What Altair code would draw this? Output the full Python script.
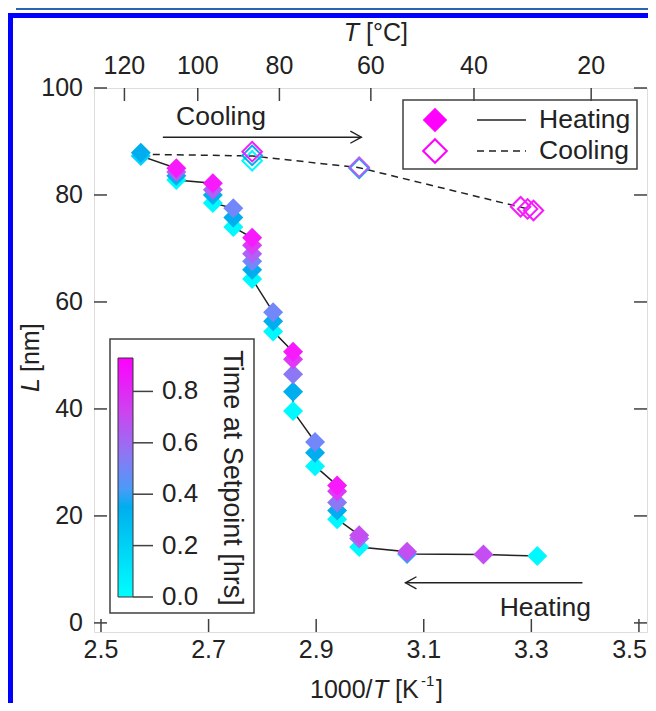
import altair as alt
import pandas as pd

# ---------------- data ----------------
# Heating series: 1000/T [K^-1], crystal size L [nm], time at setpoint [hrs]
heat_x = [2.574, 2.574,
          2.640, 2.640, 2.640, 2.640,
          2.708, 2.708, 2.708, 2.708,
          2.746, 2.746, 2.746,
          2.781, 2.781, 2.781, 2.781, 2.781, 2.781,
          2.820, 2.820, 2.820,
          2.857, 2.857, 2.857, 2.857, 2.857,
          2.898, 2.898, 2.898,
          2.939, 2.939, 2.939, 2.939, 2.939,
          2.980, 2.980, 2.980,
          3.069, 3.069,
          3.211,
          3.311]
heat_L = [87.3, 87.9,
          82.8, 83.6, 84.3, 85.0,
          78.5, 80.0, 81.0, 82.2,
          74.0, 75.8, 77.5,
          64.3, 66.0, 67.6, 69.0, 70.6, 72.0,
          54.5, 56.4, 58.1,
          39.6, 43.2, 46.5, 49.3, 50.7,
          29.3, 31.8, 33.8,
          19.4, 21.0, 22.5, 24.6, 25.7,
          14.2, 15.8, 16.4,
          12.9, 13.3,
          12.8,
          12.5]
heat_t = [0.20, 0.35,
          0.03, 0.35, 0.65, 0.90,
          0.03, 0.35, 0.65, 0.90,
          0.03, 0.35, 0.50,
          0.03, 0.35, 0.50, 0.65, 0.78, 0.90,
          0.03, 0.35, 0.50,
          0.03, 0.35, 0.55, 0.80, 0.90,
          0.03, 0.35, 0.50,
          0.03, 0.35, 0.55, 0.80, 0.90,
          0.03, 0.60, 0.70,
          0.40, 0.70,
          0.70,
          0.03]

# Cooling series (open diamonds)
cool_x = [2.781, 2.781, 2.781, 2.980, 2.980, 3.280, 3.293, 3.304]
cool_L = [86.4, 87.4, 88.1, 85.0, 85.2, 77.8, 77.4, 77.1]
cool_t = [0.03, 0.35, 0.90, 0.35, 0.65, 0.90, 0.90, 0.90]

# Cooling guide line (dashed)
cline_x = [2.574, 2.781, 2.980, 3.293]
cline_L = [87.6, 87.3, 85.1, 77.4]

# Annotation arrows and texts (data coordinates)
arrow_start = [2.615, 3.395]
arrow_end = [2.984, 3.066]
arrow_L = [90.8, 7.5]
arrow_angle = [0, 180]
note_text = ["Cooling", "Heating"]
note_x = [2.723, 3.326]
note_L = [94.6, 2.8]

# Axes
x_ticks = [2.5, 2.7, 2.9, 3.1, 3.3, 3.5]
y_ticks = [0, 20, 40, 60, 80, 100]
T_ticks = [120, 100, 80, 60, 40, 20]
cbar_ticks = [0.0, 0.2, 0.4, 0.6, 0.8]

# Colour scale (time at setpoint)
C_STOPS = [0.0, 0.35, 0.42, 0.55, 0.72, 0.93]
C_COLORS = ["#00FFFF", "#00AEEF", "#4A9BF8", "#8C78F4", "#CC44F0", "#FF00FF"]

# ---------------- styling ----------------
W, H = 553, 544
X_DOM = [2.487, 3.515]
Y_DOM = [-1.7, 100]
FONT = "Liberation Sans"
INK = "#222222"
FRAME = "#404040"
FS = 25

xs = alt.Scale(domain=X_DOM, nice=False, zero=False)
ys = alt.Scale(domain=Y_DOM, nice=False, zero=False)
cs = alt.Scale(domain=C_STOPS, range=C_COLORS)

heat = pd.DataFrame({"x": heat_x, "L": heat_L, "t": heat_t})
cool = pd.DataFrame({"x": cool_x, "L": cool_L, "t": cool_t})
cline = pd.DataFrame({"x": cline_x, "L": cline_L})
arr = pd.DataFrame({"x1": arrow_start, "x2": arrow_end, "y": arrow_L, "ang": arrow_angle})
notes = pd.DataFrame({"x": note_x, "y": note_L, "label": note_text})
one = pd.DataFrame({"k": [0]})

XN = lambda f: alt.X(f, scale=xs, axis=None)
YN = lambda f: alt.Y(f, scale=ys, axis=None)


def box(x1, x2, y1, y2, **kw):
    return alt.Chart(one).mark_rect(**kw).encode(
        x=alt.value(x1), x2=alt.value(x2), y=alt.value(y1), y2=alt.value(y2))


def label(txt, x, y, size=FS, italic=False, align="left", baseline="alphabetic", angle=0):
    kw = dict(font=FONT, fontSize=size, color=INK, align=align, baseline=baseline, text=txt)
    if italic:
        kw["fontStyle"] = "italic"
    if angle:
        kw["angle"] = angle
    return alt.Chart(one).mark_text(**kw).encode(x=alt.value(x), y=alt.value(y))


# page decoration (blue frame)
blue_left = box(-86, -81, -75, 640, color="#0000FF")
blue_top = box(-86, 620, -75, -70, color="#0000FF")
thin_top = box(-78, 620, -80, -78, color="#2B63B0")

# lines
heat_line = alt.Chart(heat).mark_line(color=INK, strokeWidth=1.5).encode(
    x=XN("x:Q"), y=YN("L:Q"), order=alt.Order("L:Q", sort="descending"))

cool_line = alt.Chart(cline).mark_line(color=INK, strokeWidth=1.5, strokeDash=[7, 5]).encode(
    x=XN("x:Q"), y=YN("L:Q"))

arrow_lines = alt.Chart(arr).mark_rule(color=INK, strokeWidth=1.4).encode(
    x=XN("x1:Q"), x2="x2:Q", y=YN("y:Q"))
arrow_heads = alt.Chart(arr).mark_point(
    shape="M-1,-0.55L0,0L-1,0.55", filled=False, size=484, color=INK, strokeWidth=1.4,
    opacity=1).encode(x=XN("x2:Q"), y=YN("y:Q"), angle=alt.Angle("ang:Q", scale=None))

heat_pts = alt.Chart(heat).mark_point(shape="diamond", filled=True, size=400, opacity=1,
                                      strokeWidth=0).encode(
    x=XN("x:Q"), y=YN("L:Q"), color=alt.Color("t:Q", scale=cs, legend=None),
    order=alt.Order("t:Q"))
cool_pts = alt.Chart(cool).mark_point(shape="diamond", filled=False, size=380, opacity=1,
                                      strokeWidth=2).encode(
    x=XN("x:Q"), y=YN("L:Q"), color=alt.Color("t:Q", scale=cs, legend=None),
    order=alt.Order("t:Q"))

note_marks = alt.Chart(notes).mark_text(font=FONT, fontSize=26.5, color=INK, align="center",
                                        baseline="middle").encode(
    x=XN("x:Q"), y=YN("y:Q"), text="label:N")

# inward ticks on all four sides, and tick labels
TL = 13
yt = pd.DataFrame({"v": y_ticks})
xt = pd.DataFrame({"v": x_ticks})
tt = pd.DataFrame({"T": T_ticks})
left_ticks = alt.Chart(yt).mark_rule(color=FRAME, strokeWidth=1.5).encode(
    y=YN("v:Q"), x=alt.value(0), x2=alt.value(TL))
right_ticks = alt.Chart(yt).mark_rule(color=FRAME, strokeWidth=1.5).encode(
    y=YN("v:Q"), x=alt.value(W), x2=alt.value(W - TL))
bottom_ticks = alt.Chart(xt).mark_rule(color=FRAME, strokeWidth=1.5).encode(
    x=XN("v:Q"), y=alt.value(H), y2=alt.value(H - TL))
top_ticks = alt.Chart(tt).transform_calculate(pos="1000/(datum.T+273.15)").mark_rule(
    color=FRAME, strokeWidth=1.5).encode(x=XN("pos:Q"), y=alt.value(0), y2=alt.value(TL))

left_labels = alt.Chart(yt).mark_text(font=FONT, fontSize=FS, color=INK, align="right",
                                      baseline="middle").encode(
    y=YN("v:Q"), x=alt.value(-11), text=alt.Text("v:Q", format="d"))
bottom_labels = alt.Chart(xt).transform_filter("datum.v < 3.45").mark_text(
    font=FONT, fontSize=FS, color=INK, align="center", baseline="alphabetic").encode(
    x=XN("v:Q"), y=alt.value(H + 26), text=alt.Text("v:Q", format=".1f"))
# last label kept inside the page edge
bottom_last = alt.Chart(xt).transform_filter("datum.v >= 3.45").mark_text(
    font=FONT, fontSize=FS, color=INK, align="right", baseline="alphabetic", dx=8).encode(
    x=XN("v:Q"), y=alt.value(H + 26), text=alt.Text("v:Q", format=".1f"))
top_labels = alt.Chart(tt).transform_calculate(pos="1000/(datum.T+273.15)").mark_text(
    font=FONT, fontSize=FS, color=INK, align="center", baseline="alphabetic").encode(
    x=XN("pos:Q"), y=alt.value(-14), text=alt.Text("T:Q", format="d"))

# axis titles with italic symbols
titles = [
    label("T", 265, -47, italic=True, align="right"),
    label("[°C]", 272, -47),
    label("L", -55, 304, italic=True, angle=270),
    label("[nm]", -55, 284, angle=270),
    label("1000/", 216, 610),
    label("T", 279, 610, italic=True),
    label("[K", 301, 610),
    label("-1", 327, 598, size=15),
    label("]", 342, 610),
]

# Heating / Cooling legend (upper right)
leg_box = box(309, 543, 12, 81, fill="white", stroke=FRAME, strokeWidth=1.5)
leg_fd = alt.Chart(one).mark_point(shape="diamond", filled=True, size=600, color="#FF00FF",
                                   opacity=1, strokeWidth=0).encode(
    x=alt.value(341), y=alt.value(32))
leg_od = alt.Chart(one).mark_point(shape="diamond", filled=False, size=560, color="#FF00FF",
                                   opacity=1, strokeWidth=2).encode(
    x=alt.value(341), y=alt.value(63))
leg_solid = alt.Chart(one).mark_rule(color=INK, strokeWidth=1.5).encode(
    x=alt.value(383), x2=alt.value(432), y=alt.value(32))
leg_dash = alt.Chart(one).mark_rule(color=INK, strokeWidth=1.5, strokeDash=[7, 5]).encode(
    x=alt.value(383), x2=alt.value(432), y=alt.value(63))
leg_t1 = label("Heating", 445, 32, size=26.5, baseline="middle")
leg_t2 = label("Cooling", 445, 63, size=26.5, baseline="middle")

main = alt.layer(
    blue_left, blue_top, thin_top, leg_box,
    heat_line, cool_line, arrow_lines, arrow_heads,
    cool_pts, heat_pts, note_marks,
    left_ticks, right_ticks, bottom_ticks, top_ticks,
    left_labels, bottom_labels, bottom_last, top_labels,
    *titles,
    leg_fd, leg_od, leg_solid, leg_dash, leg_t1, leg_t2,
)

# colour bar (own vertical scale)
CB_TOP, CB_BOT = 270, 509
cby = alt.Scale(domain=[0, C_STOPS[-1]], range=[CB_BOT, CB_TOP], nice=False, zero=False)
grad = {
    "gradient": "linear", "x1": 0, "y1": 1, "x2": 0, "y2": 0,
    "stops": [{"offset": s / C_STOPS[-1], "color": c} for s, c in zip(C_STOPS, C_COLORS)],
}
cb_box = box(16, 160, 251, 525, fill="white", stroke=FRAME, strokeWidth=1.5)
cb_grad = box(24, 39, CB_TOP, CB_BOT, fill=grad, stroke="#333333", strokeWidth=1)
cbt = pd.DataFrame({"v": cbar_ticks})
cb_ticks = alt.Chart(cbt).mark_rule(color=FRAME, strokeWidth=1.5).encode(
    y=alt.Y("v:Q", scale=cby, axis=None), x=alt.value(39), x2=alt.value(59))
cb_labels = alt.Chart(cbt).mark_text(font=FONT, fontSize=26, color=INK, align="left",
                                     baseline="middle").encode(
    y=alt.Y("v:Q", scale=cby, axis=None), x=alt.value(68), text=alt.Text("v:Q", format=".1f"))
cb_title = label("Time at Setpoint [hrs]", 138, 390, size=27, align="center",
                 baseline="middle", angle=90)

cbar = alt.layer(cb_box, cb_grad, cb_ticks, cb_labels, cb_title)

chart = alt.layer(main, cbar).resolve_scale(y="independent").properties(
    width=W, height=H,
    padding={"left": 86, "top": 80, "right": 1, "bottom": 71},
    autosize=alt.AutoSizeParams(type="none"),
).configure_view(stroke=FRAME, strokeWidth=1.5).configure(font=FONT)

chart.save("out.html", embed_options={"renderer": "svg", "actions": False})
